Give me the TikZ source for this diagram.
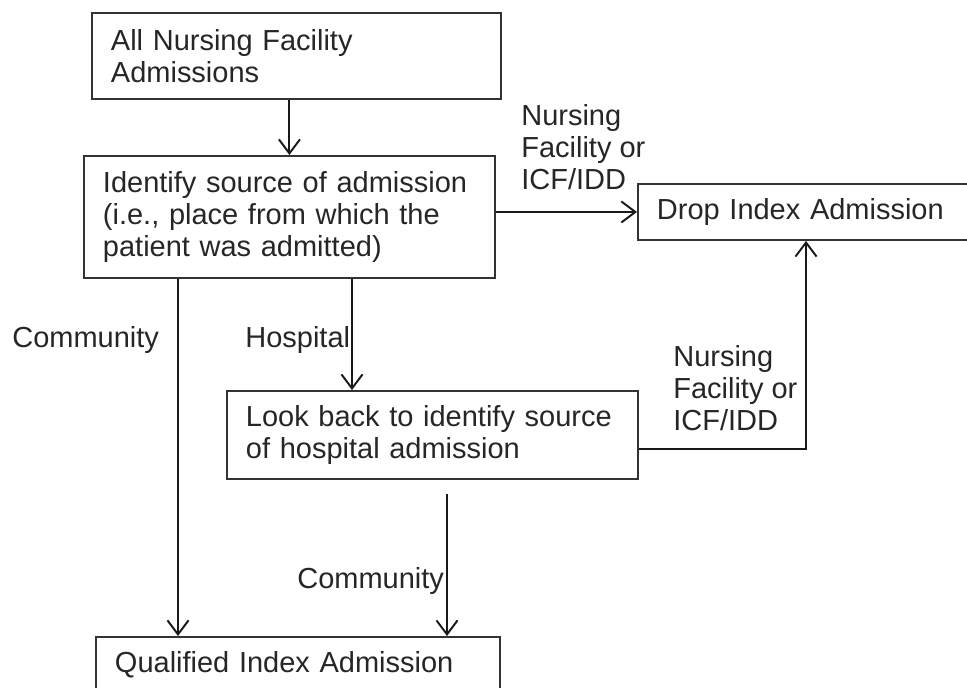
\documentclass[tikz,border=0pt]{standalone}
\usepackage{fontspec}
\setmainfont{Liberation Sans}
\usetikzlibrary{arrows.meta}

\begin{document}
\begin{tikzpicture}[x=0.02cm, y=-0.02cm,
		every node/.style={font=\fontsize{16.5}{18.2}\selectfont, text=black!85},
		stepbox/.style={draw=black!80, line width=1.1pt, rectangle, anchor=north west, align=left, inner xsep=0.38cm, inner ysep=0pt},
		flow/.style={draw=black!90, line width=1.1pt, -{Straight Barb[length=8pt,width=12pt]}},
		lbl/.style={inner sep=0pt, align=left}]
				\useasboundingbox (0,0) rectangle (967,687);
				\clip (0,0) rectangle (967,687);
				\node [stepbox, text width=7.42cm, minimum height=1.72cm] (all) at (91,12) {All Nursing Facility\\Admissions};
				\node [stepbox, text width=7.46cm, minimum height=2.44cm] (ident) at (83,155) {Identify source of admission\\(i.e., place from which the\\patient was admitted)};
				\node [stepbox, text width=7.42cm, minimum height=1.12cm] (drop) at (637,183) {Drop Index Admission};
				\node [stepbox, text width=7.46cm, minimum height=1.76cm] (look) at (226,390) {Look back to identify source\\of hospital admission};
				\node [stepbox, text width=7.32cm, minimum height=1.12cm] (qual) at (95,636) {Qualified Index Admission};
				\coordinate (cl) at (178,0);
				\coordinate (ch) at (352,0);
				\coordinate (cq) at (447,0);
				\coordinate (cd) at (806,0);
				\coordinate (ce) at (0,449);
				\draw [flow] (all.south -| ident.north) -- (ident.north);
				\draw [flow] (ident.east |- drop.west) -- (drop.west);
				\draw [flow] (ident.south -| cl) -- (qual.north -| cl);
				\draw [flow] (ident.south -| ch) -- (look.north -| ch);
				\draw [flow, shorten <=0.28cm] (look.south -| cq) -- (qual.north -| cq);
				\draw [flow] (look.east |- ce) -| (drop.south -| cd);
				\node [lbl, anchor=west] (nfa) at (521,147.5) {Nursing\\Facility or\\ICF/IDD};
				\node [lbl, anchor=west] (nfb) at (673,388) {Nursing\\Facility or\\ICF/IDD};
				\node [lbl, anchor=base west] (coma) at (12,347) {Community};
				\node [lbl, anchor=base west] (hosp) at (245,347) {Hospital};
				\node [lbl, anchor=base west] (comb) at (297,588) {Community};
			\end{tikzpicture}
\end{document}
